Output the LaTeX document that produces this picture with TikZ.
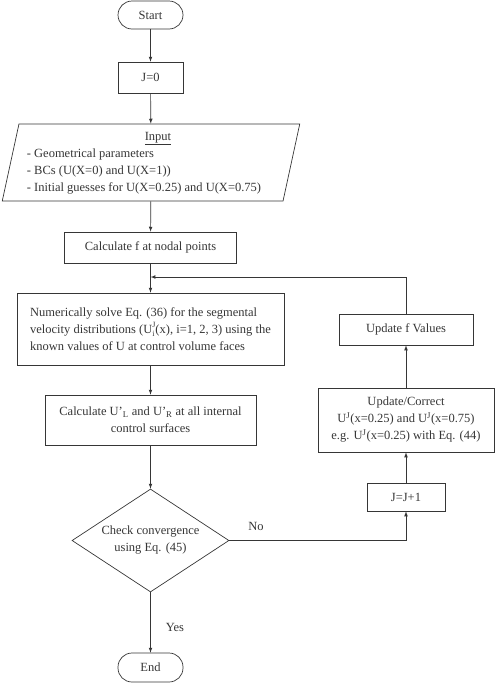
\documentclass[tikz,border=0pt]{standalone}
\usepackage{fontspec}
\setmainfont{Liberation Serif}
\usetikzlibrary{shapes.geometric}
\usetikzlibrary{arrows}
\definecolor{ink}{HTML}{363636}

\begin{document}
\begin{tikzpicture}[x=1pt, y=-1pt, >=latex,
    every node/.style={font=\fontsize{12.5}{17}\selectfont, text=ink},
    term/.style={draw=ink, line width=0.7pt, rounded corners=14pt, minimum width=65pt, minimum height=28pt},
    proc/.style={draw=ink, line width=0.7pt, rectangle, inner sep=0pt, align=center},
    io/.style={draw=ink, line width=0.7pt, trapezium, trapezium left angle=77, trapezium right angle=103,
      trapezium stretches=true, minimum width=298pt, minimum height=77pt, inner sep=0pt},
    decision/.style={draw=ink, line width=0.7pt, diamond, aspect=1.52, inner sep=0pt,
      minimum width=157pt, minimum height=103pt, align=center},
    flow/.style={draw=ink, line width=0.7pt, ->}]

  \useasboundingbox (0,0) rectangle (495,683);

  % main column
  \node[term] (start) at (150.5,15) {Start};
  \node[proc, minimum width=65pt, minimum height=31pt] (jzero) at (150.5,77.5) {J=0};
  \node[io] (input) at (151,162.5) {\begin{tabular}{@{}l@{\hspace{14pt}}}
      \multicolumn{1}{@{\hspace{14pt}}c@{}}{\underline{Input}}\\
      - Geometrical parameters\\
      - BCs (U(X=0) and U(X=1))\\
      - Initial guesses for U(X=0.25) and U(X=0.75)
    \end{tabular}};
  \node[proc, minimum width=172pt, minimum height=31pt] (calcf) at (150.5,247.5) {Calculate f at nodal points};
  \node[proc, minimum width=267pt, minimum height=72pt, align=left, inner sep=6pt] (solve) at (150.5,329)
    {Numerically solve Eq. (36) for the segmental\\
     velocity distributions (U\rlap{\raisebox{-3pt}{\fontsize{8}{8}\selectfont i}}\raisebox{6pt}{\fontsize{8}{8}\selectfont J}(x), i=1, 2, 3) using the\\
     known values of U at control volume faces};
  \node[proc, minimum width=211pt, minimum height=50pt] (calcu) at (150.5,420)
    {Calculate U'\textsubscript{L} and U'\textsubscript{R} at all internal\\ control surfaces};
  \node[decision] (check) at (150.5,540.5) {Check convergence\\ using Eq. (45)};
  \node[term, minimum height=29pt] (end) at (150.5,667.5) {End};

  % loop column
  \node[proc, minimum width=78pt, minimum height=28pt] (jnext) at (406,497) {J=J+1};
  \node[proc, minimum width=176pt, minimum height=64pt] (correct) at (406,420)
    {Update/Correct\\
     U\textsuperscript{J}(x=0.25) and U\textsuperscript{J}(x=0.75)\\
     e.g. U\textsuperscript{J}(x=0.25) with Eq. (44)};
  \node[proc, minimum width=134pt, minimum height=31pt] (updf) at (406,329.5) {Update f Values};

  \coordinate (join) at (150.5,277);

  \node (nolbl) at (256,526) {No};
  \node (yeslbl) at (175,627) {Yes};

  \draw[flow] (start) -- (jzero);
  \draw[flow] (jzero) -- (input);
  \draw[flow] (input) -- (calcf);
  \draw[flow] (calcf) -- (solve);
  \draw[flow] (solve) -- (calcu);
  \draw[flow] (calcu) -- (check);
  \draw[flow] (check) -- (end);
  \draw[flow] (check.east) -| (jnext.south);
  \draw[flow] (jnext) -- (correct);
  \draw[flow] (correct) -- (updf);
  \draw[flow] (updf.north) |- (join);
\end{tikzpicture}
\end{document}
